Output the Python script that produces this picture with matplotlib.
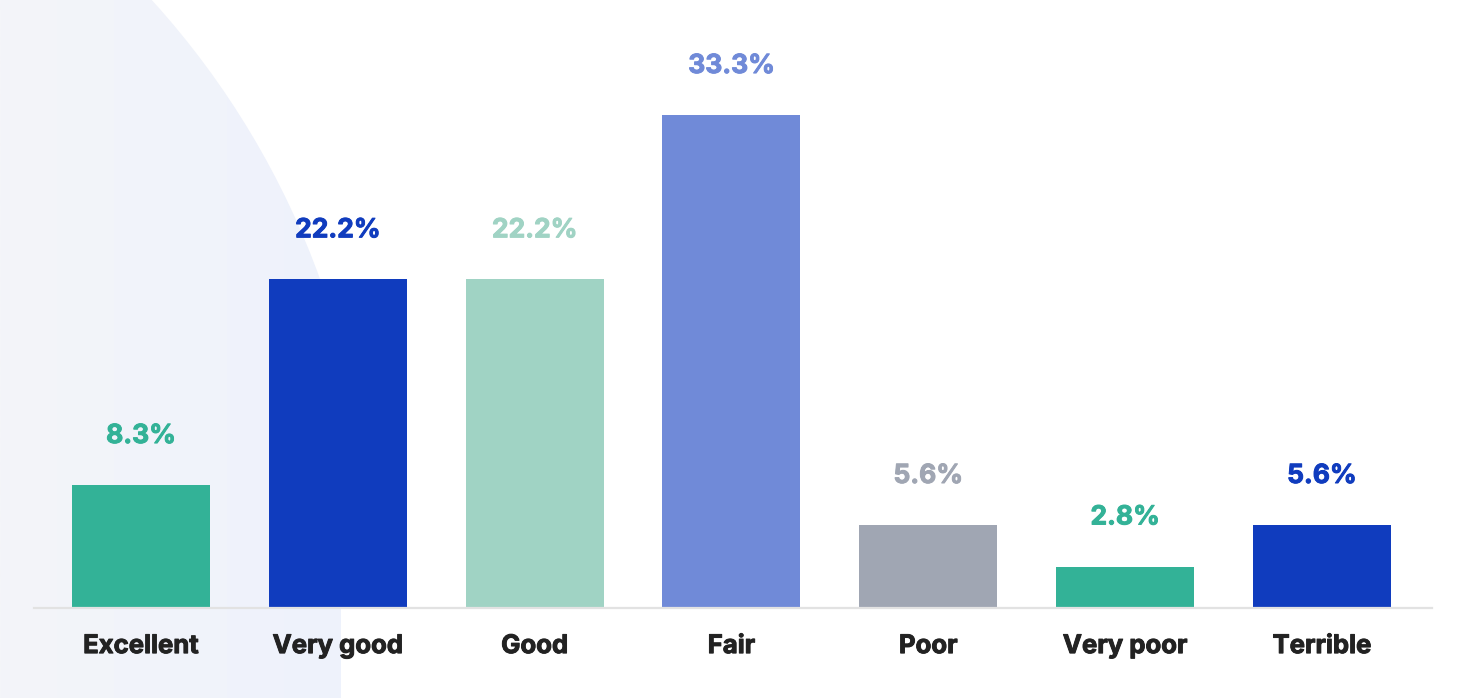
import matplotlib
matplotlib.use("Agg")
import matplotlib.pyplot as plt
import matplotlib.patheffects as pe
import numpy as np
from matplotlib.patches import Circle
from matplotlib.colors import LinearSegmentedColormap

categories = ["Excellent", "Very good", "Good", "Fair", "Poor", "Very poor", "Terrible"]
values = [8.3, 22.2, 22.2, 33.3, 5.6, 2.8, 5.6]
value_labels = ["8.3%", "22.2%", "22.2%", "33.3%", "5.6%", "2.8%", "5.6%"]
colors = ["#33b297", "#103cbe", "#a0d3c4", "#708ad8", "#a0a6b3", "#33b297", "#103cbe"]

plt.rcParams["font.family"] = ["Inter", "DejaVu Sans"]

W, H = 1470, 698
fig = plt.figure(figsize=(W / 100, H / 100), dpi=100)
fig.patch.set_facecolor("white")

# background decorative shape (pixel coordinates, origin top-left)
bg = fig.add_axes([0, 0, 1, 1], zorder=0)
bg.set_xlim(0, W)
bg.set_ylim(H, 0)
bg.axis("off")
circ = Circle((-468, 564), 838, facecolor="none", edgecolor="none", transform=bg.transData)
bg.add_patch(circ)
grad = np.linspace(0, 1, 256).reshape(1, -1)
cmap = LinearSegmentedColormap.from_list("g", ["#f4f5f9", "#eef2fc"])
im = bg.imshow(grad, extent=[0, 341, H, 0], cmap=cmap, aspect="auto", interpolation="bilinear")
im.set_clip_path(circ)

# main chart axes
left = 34 / W
width = (1432 - 34) / W
bottom = (H - 608) / H
ax = fig.add_axes([left, bottom, width, 1 - bottom], zorder=1)
ax.patch.set_alpha(0)

x = np.arange(len(categories))
bars = ax.bar(x, values, width=0.701, color=colors, zorder=2)

ax.set_xlim(-0.5436, 6.559)
ax.set_ylim(0, 608 / 14.8)

for s in ["top", "right", "left"]:
    ax.spines[s].set_visible(False)
ax.spines["bottom"].set_color("#e2e2e2")
ax.spines["bottom"].set_linewidth(1.6)
ax.set_yticks([])
ax.set_xticks(x)
ax.set_xticklabels(categories, fontsize=18.5, fontweight="bold", color="#222222")
ax.tick_params(axis="x", length=0, pad=19.5)
for lab in ax.get_xticklabels():
    lab.set_path_effects([pe.withStroke(linewidth=0.7, foreground="#222222")])

texts = ax.bar_label(bars, labels=value_labels, padding=26, fontsize=19, fontweight="bold")
for t, c in zip(texts, colors):
    t.set_color(c)
    t.set_path_effects([pe.withStroke(linewidth=0.7, foreground=c)])

fig.savefig("out.png", dpi=100, facecolor="white")
